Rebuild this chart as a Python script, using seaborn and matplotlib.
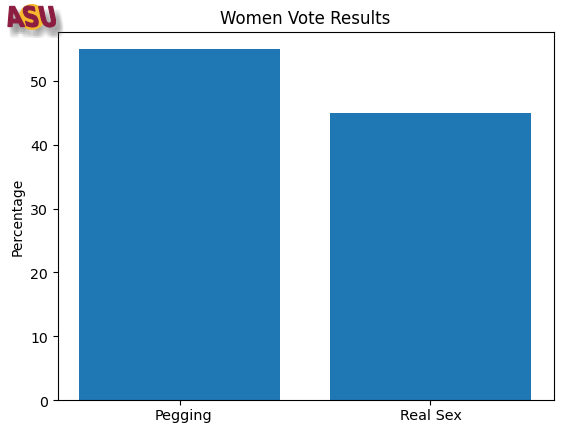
import matplotlib
matplotlib.use('Agg')
import matplotlib.pyplot as plt
import matplotlib.patches as mpatches
import matplotlib.transforms as mtrans
from matplotlib.font_manager import FontProperties
from matplotlib.textpath import TextPath
import pandas as pd
import seaborn as sns

categories = ['Pegging', 'Real Sex']
percentages = [55, 45]

W, H = 562, 435

df = pd.DataFrame({'vote': categories, 'pct': percentages})

fig = plt.figure(figsize=(W / 100, H / 100), dpi=100)
ax = fig.add_axes([57.5 / W, 1 - 401.3 / H, (554 - 57.5) / W, (401.3 - 32.5) / H])
sns.barplot(data=df, x='vote', y='pct', color='#1f77b4', saturation=1, width=0.8, ax=ax)
ax.set_title('Women Vote Results', fontsize=12, x=0.498)
ax.set_xlabel('')
ax.set_ylabel('Percentage', fontsize=10, labelpad=4)
ax.set_xlim(-0.487, 1.493)
ax.set_ylim(0, 57.7)
ax.tick_params(axis='x', labelsize=10.4, pad=2)
ax.tick_params(axis='y', labelsize=10.2)

# tick labels sit a little right of their ticks in the original
for lab, shift in zip(ax.get_xticklabels(), [3.5, 1]):
    lab.set_transform(lab.get_transform() + mtrans.ScaledTranslation(shift / 100, 0, fig.dpi_scale_trans))

# logo in the corner, in pixel coordinates: blurred shadow, sun, letters
to_px = mtrans.Affine2D().scale(1 / W, -1 / H).translate(0, 1) + fig.transFigure
letters = TextPath((0, 0), 'ASU', size=10, prop=FontProperties(family='DejaVu Sans', weight='bold'))
box = letters.get_extents()
shape = mtrans.Affine2D().translate(-box.x0, -box.y0).scale(49 / box.width, -21 / box.height).skew_deg(12, 0)
letters = shape.transform_path(letters)

for dx in range(1, 9):
    for dy in range(3, 12, 2):
        fig.patches.append(mpatches.PathPatch(letters, transform=mtrans.Affine2D().translate(8 + dx, 28 + dy) + to_px,
                                              fc='#707070', ec='none', alpha=0.03, zorder=5))
fig.patches.append(mpatches.Circle((32, 18), 13, transform=to_px, fc='#f5b82e', ec='none', zorder=6))
fig.patches.append(mpatches.PathPatch(letters, transform=mtrans.Affine2D().translate(8, 28) + to_px,
                                      fc='#8c1d40', ec='#8c1d40', lw=0.8, zorder=7))

fig.savefig('out.png', dpi=100)
plt.close()
